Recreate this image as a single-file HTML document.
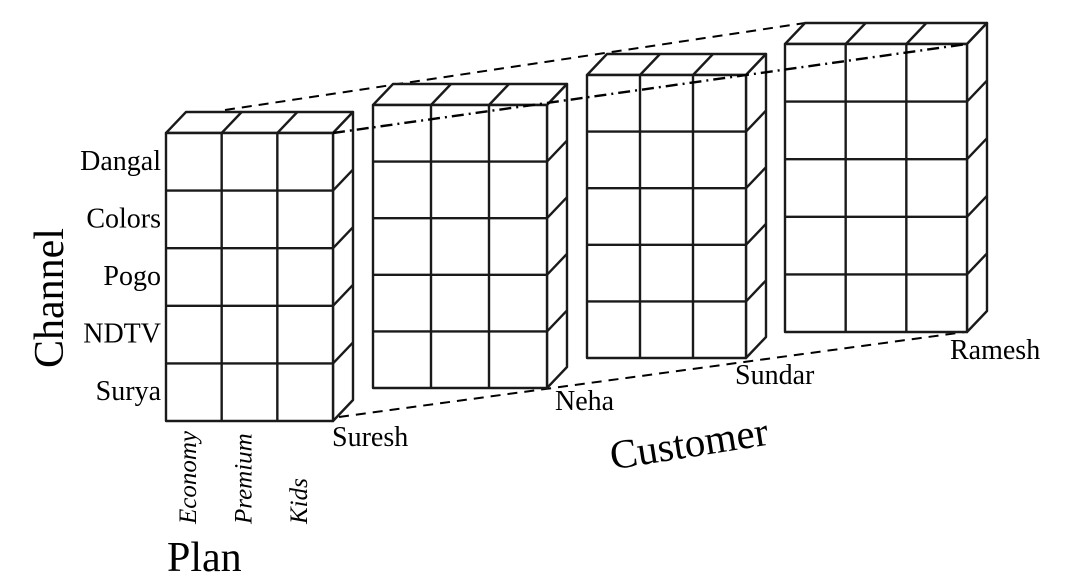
<!DOCTYPE html>
<html><head><meta charset="utf-8"><style>
html,body{margin:0;padding:0;background:#fff;width:1091px;height:587px;overflow:hidden}
svg{display:block}
text{font-family:"Liberation Serif",serif;fill:#000}
</style></head><body>
<svg id="c" width="1091" height="587" viewBox="0 0 1091 587">
<g id="lines"></g>
<g id="blocks"></g>
<g id="over"></g>
<g id="labels"></g>
</svg>
<script>
const channels=["Dangal","Colors","Pogo","NDTV","Surya"];
const plans=["Economy","Premium","Kids"];
const customers=["Suresh","Neha","Sundar","Ramesh"];
// block geometry per customer
const blockLeft=[166,373,587,785];
const blockRight=[333,547,746,967];
const blockTop=[133,105,75,44];
const blockBottom=[421,388,358,332];
const NS="http://www.w3.org/2000/svg";
function mk(tag,attrs,parent){const e=document.createElementNS(NS,tag);for(const k in attrs)e.setAttribute(k,attrs[k]);parent.appendChild(e);return e;}
const L=document.getElementById('lines'),B=document.getElementById('blocks'),O=document.getElementById('over'),T=document.getElementById('labels');
const DX=20,DY=-21;
let l1=mk('line',{x1:225,y1:110,x2:blockLeft[3]+DX,y2:blockTop[3]+DY,stroke:'#000','stroke-width':2,'stroke-dasharray':'10 7'},L);


let l2=mk('line',{x1:blockRight[0]+6,y1:blockBottom[0]-4,x2:blockRight[3]-2,y2:blockBottom[3],stroke:'#000','stroke-width':2,'stroke-dasharray':'10 7'},L);


customers.forEach((c,i)=>{
  const x0=blockLeft[i],x1=blockRight[i],y0=blockTop[i],y1=blockBottom[i];
  const g=mk('g',{},B);
  
  
  const st={stroke:'#1a1a1a','stroke-width':2.4,fill:'#fff','stroke-linejoin':'round'};
  mk('polygon',Object.assign({points:`${x0},${y0} ${x0+DX},${y0+DY} ${x1+DX},${y0+DY} ${x1},${y0}`},st),g);
  mk('polygon',Object.assign({points:`${x1},${y0} ${x1+DX},${y0+DY} ${x1+DX},${y1+DY} ${x1},${y1}`},st),g);
  mk('rect',Object.assign({x:x0,y:y0,width:x1-x0,height:y1-y0},st),g);
  const cw=(x1-x0)/plans.length, rh=(y1-y0)/channels.length;
  for(let p=1;p<plans.length;p++){const x=x0+cw*p;
    mk('line',{x1:x,y1:y0,x2:x,y2:y1,stroke:'#1a1a1a','stroke-width':2.4},g);
    mk('line',{x1:x,y1:y0,x2:x+DX,y2:y0+DY,stroke:'#1a1a1a','stroke-width':2.4},g);}
  for(let r=1;r<channels.length;r++){const y=y0+rh*r;
    mk('line',{x1:x0,y1:y,x2:x1,y2:y,stroke:'#1a1a1a','stroke-width':2.4},g);
    mk('line',{x1:x1,y1:y,x2:x1+DX,y2:y+DY,stroke:'#1a1a1a','stroke-width':2.4},g);}
  const t=mk('text',{x:[332,555,735,950][i],y:[446,410,384,359][i],'font-size':28},T);t.textContent=c;
  
  
});
let l3=mk('line',{x1:blockRight[0],y1:blockTop[0],x2:blockRight[3],y2:blockTop[3],stroke:'#000','stroke-width':2.4,'stroke-dasharray':'12 5 2 5'},O);


channels.forEach((ch,r)=>{
  const rh=(blockBottom[0]-blockTop[0])/channels.length;
  const t=mk('text',{x:161,y:blockTop[0]+rh*(r+0.5)+8,'font-size':28,'text-anchor':'end'},T);t.textContent=ch;
  
  
});
plans.forEach((p,k)=>{
  const cw=(blockRight[0]-blockLeft[0])/plans.length;
  const x=blockLeft[0]+cw*(k+0.5)+2;
  const t=mk('text',{x:0,y:0,'font-size':25,'font-style':'italic',transform:`translate(${x},524) rotate(-90)`},T);t.textContent=p;
  
  
});
let t1=mk('text',{x:0,y:0,'font-size':42,'text-anchor':'middle',transform:'translate(63,298) rotate(-90)'},T);t1.textContent='Channel';


let t2=mk('text',{x:167,y:571,'font-size':42},T);t2.textContent='Plan';


let t3=mk('text',{x:0,y:0,'font-size':41,'text-anchor':'middle',transform:'translate(691,457) rotate(-9)'},T);t3.textContent='Customer';


</script>
</body></html>
